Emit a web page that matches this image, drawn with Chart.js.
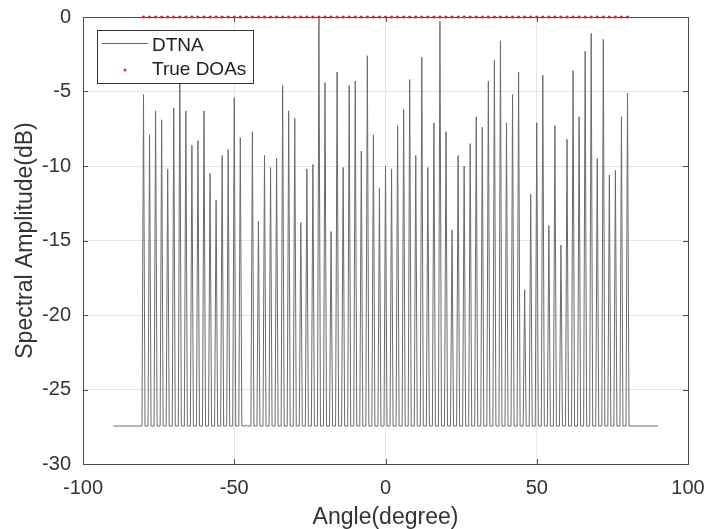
<!DOCTYPE html>
<html>
<head>
<meta charset="utf-8">
<script src="https://cdn.jsdelivr.net/npm/chart.js@4.4.1/dist/chart.umd.min.js"></script>
<style>
  html, body { margin: 0; padding: 0; background: #fff; }
  #wrap { width: 707px; height: 529px; }
</style>
</head>
<body>
<div id="wrap"><canvas id="myChart" width="707" height="529"></canvas></div>
<script>
// angulos de las fuentes (grados)
const anglesDeg = [-80, -78, -76, -74, -72, -70, -68, -66, -64, -62, -60, -58, -56, -54, -52, -50, -48, -46, -44, -42,
  -40, -38, -36, -34, -32, -30, -28, -26, -24, -22, -20, -18, -16, -14, -12, -10, -8, -6, -4, -2,
  0, 2, 4, 6, 8, 10, 12, 14, 16, 18, 20, 22, 24, 26, 28, 30, 32, 34, 36, 38,
  40, 42, 44, 46, 48, 50, 52, 54, 56, 58, 60, 62, 64, 66, 68, 70, 72, 74, 76, 78, 80];

// altura de cada pico DTNA (dB)
const peakDb = [-5.2, -7.9, -6.3, -6.9, -10.2, -6.1, -3.0, -6.3, -8.6, -8.3, -6.3, -10.5, -12.3, -9.3, -8.9, -5.4, -8.1, -27.4, -7.7, -13.7,
  -9.3, -10.1, -9.5, -4.6, -6.3, -6.8, -13.8, -10.2, -9.9, -0.1, -4.4, -14.4, -3.7, -10.1, -4.6, -4.3, -9.0, -2.6, -7.9, -11.5,
  -10.0, -10.2, -7.3, -6.2, -4.2, -9.3, -2.7, -10.1, -7.1, -0.3, -7.7, -14.3, -9.3, -10.0, -8.5, -6.7, -7.4, -4.3, -2.9, -1.6,
  -7.1, -5.2, -3.7, -18.3, -11.9, -7.1, -3.9, -14.0, -7.3, -15.3, -8.2, -3.6, -6.7, -2.3, -1.1, -9.5, -1.5, -10.6, -10.3, -6.7, -5.1];

// DOAs verdaderos (todos en 0 dB)
const trueDoaDb = [0, 0, 0, 0, 0, 0, 0, 0, 0, 0, 0, 0, 0, 0, 0, 0, 0, 0, 0, 0,
  0, 0, 0, 0, 0, 0, 0, 0, 0, 0, 0, 0, 0, 0, 0, 0, 0, 0, 0, 0,
  0, 0, 0, 0, 0, 0, 0, 0, 0, 0, 0, 0, 0, 0, 0, 0, 0, 0, 0, 0,
  0, 0, 0, 0, 0, 0, 0, 0, 0, 0, 0, 0, 0, 0, 0, 0, 0, 0, 0, 0, 0];

const floorDb = -27.45;
const scanRange = [-90, 90];
const xTicks = [-100, -50, 0, 50, 100];
const yTicks = [-30, -25, -20, -15, -10, -5, 0];

const fontFam = "'Liberation Sans', Arial, sans-serif";
const textColor = "#333333";
const axisColor = "#4d4d4d";

// armar la curva del espectro a partir de los picos
function buildSpectrum() {
  const pts = [{ x: scanRange[0], y: floorDb }];
  anglesDeg.forEach((a, i) => {
    pts.push({ x: a - 0.5, y: floorDb });
    pts.push({ x: a, y: peakDb[i] });
    pts.push({ x: a + 0.5, y: floorDb });
  });
  pts.push({ x: scanRange[1], y: floorDb });
  return pts;
}

const doaPoints = anglesDeg.map((a, i) => ({ x: a, y: trueDoaDb[i] }));

// PLUGIN: caja y ticks hacia adentro (antes de los datos), leyenda (al final)
const boxPlugin = {
  id: "boxPlugin",
  beforeDatasetsDraw(chart) {
    const ctx = chart.ctx;
    const area = chart.chartArea;
    const xs = chart.scales.x;
    const ys = chart.scales.y;
    ctx.save();
    ctx.strokeStyle = axisColor;
    ctx.lineWidth = 1;
    ctx.beginPath();
    xTicks.forEach((t) => {
      const px = Math.round(xs.getPixelForValue(t)) + 0.5;
      ctx.moveTo(px, area.bottom);
      ctx.lineTo(px, area.bottom - 5);
      ctx.moveTo(px, area.top);
      ctx.lineTo(px, area.top + 5);
    });
    yTicks.forEach((t) => {
      const py = Math.round(ys.getPixelForValue(t)) + 0.5;
      ctx.moveTo(area.left, py);
      ctx.lineTo(area.left + 5, py);
      ctx.moveTo(area.right, py);
      ctx.lineTo(area.right - 5, py);
    });
    ctx.stroke();
    ctx.strokeRect(Math.round(area.left) + 0.5, Math.round(area.top) + 0.5,
      Math.round(area.right - area.left), Math.round(area.bottom - area.top));
    ctx.restore();
  },
  afterDraw(chart) {
    const ctx = chart.ctx;
    ctx.save();
    const lx = 97.5, ly = 30.5, lw = 156, lh = 53;
    ctx.fillStyle = "#ffffff";
    ctx.fillRect(lx, ly, lw, lh);
    ctx.strokeStyle = "#333333";
    ctx.lineWidth = 1;
    ctx.strokeRect(lx, ly, lw, lh);
    ctx.strokeStyle = "#666666";
    ctx.beginPath();
    ctx.moveTo(102, 43.5);
    ctx.lineTo(148, 43.5);
    ctx.stroke();
    ctx.fillStyle = "#e03030";
    ctx.beginPath();
    ctx.arc(125, 70, 1.6, 0, Math.PI * 2);
    ctx.fill();
    ctx.fillStyle = "#222222";
    ctx.font = "19px " + fontFam;
    ctx.textBaseline = "middle";
    ctx.textAlign = "left";
    ctx.fillText("DTNA", 152, 46);
    ctx.fillText("True DOAs", 152, 70);
    ctx.restore();
  },
};

function graficoEspectro() {
  const ctx = document.getElementById("myChart").getContext("2d");

  new Chart(ctx, {
    type: "scatter",
    data: {
      datasets: [
        {
          label: "DTNA",
          data: buildSpectrum(),
          showLine: true,
          borderColor: "#6b6b6b",
          borderWidth: 1,
          pointRadius: 0,
          tension: 0,
          order: 2,
        },
        {
          label: "True DOAs",
          data: doaPoints,
          showLine: false,
          clip: false,
          pointRadius: 1.6,
          pointBackgroundColor: "#dd2222",
          pointBorderWidth: 0,
          order: 1,
        },
      ],
    },
    options: {
      responsive: false,
      animation: false,
      events: [],
      layout: { padding: { left: 0, right: 19, top: 17, bottom: 0 } },
      plugins: {
        legend: { display: false },
        tooltip: { enabled: false },
      },
      scales: {
        x: {
          type: "linear",
          min: -100,
          max: 100,
          afterBuildTicks: (s) => { s.ticks = xTicks.map((v) => ({ value: v })); },
          afterFit: (s) => {
            s.height = 65;
            s.paddingLeft = 0;
            s.paddingRight = 0;
          },
          grid: { color: "#e6e6e6", drawTicks: false },
          border: { color: axisColor },
          ticks: { color: textColor, font: { family: fontFam, size: 20 }, padding: 12, maxRotation: 0 },
          title: {
            display: true,
            text: "Angle(degree)",
            color: textColor,
            font: { family: fontFam, size: 23, lineHeight: 1 },
            padding: { top: 0, bottom: 0 },
          },
        },
        y: {
          type: "linear",
          min: -30,
          max: 0,
          afterBuildTicks: (s) => { s.ticks = yTicks.map((v) => ({ value: v })); },
          afterFit: (s) => {
            s.width = 83;
            s.paddingTop = 0;
            s.paddingBottom = 0;
          },
          grid: { color: "#e6e6e6", drawTicks: false },
          border: { color: axisColor },
          ticks: { color: textColor, font: { family: fontFam, size: 20 }, padding: 12 },
          title: {
            display: true,
            text: "Spectral Amplitude(dB)",
            color: textColor,
            font: { family: fontFam, size: 23, lineHeight: 1 },
            padding: { top: 14, bottom: 0 },
          },
        },
      },
    },
    plugins: [boxPlugin],
  });
}

window.onload = function () {
  graficoEspectro();
};
</script>
</body>
</html>
